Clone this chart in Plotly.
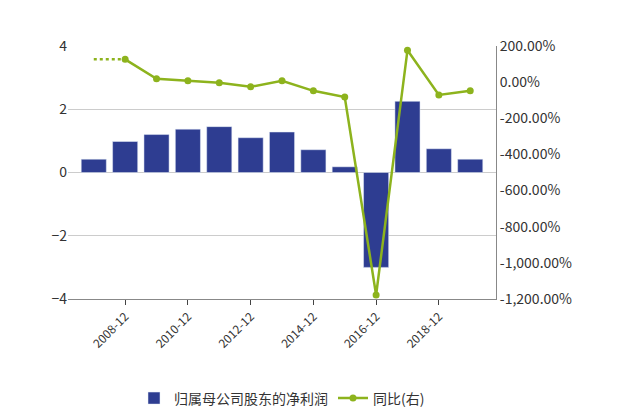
import plotly.graph_objects as go

cats = ["2007-12","2008-12","2009-12","2010-12","2011-12","2012-12","2013-12","2014-12","2015-12","2016-12","2017-12","2018-12","2019-12"]
profit = [0.42,0.98,1.2,1.37,1.45,1.1,1.28,0.72,0.18,-3.0,2.25,0.75,0.42]
yoy = [None,126,19,8,-3,-26,8,-48,-82,-1178,177,-71,-48]
dotted_cats = ["2007-12","2008-12"]
dotted_vals = [126,126]
tick_cats = ["2008-12","2010-12","2012-12","2014-12","2016-12","2018-12"]

fig = go.Figure()
fig.add_bar(x=cats, y=profit, name="归属母公司股东的净利润", marker_color="#2E3D91", width=0.8)
fig.add_scatter(x=cats, y=yoy, name="同比(右)", yaxis="y2", mode="lines+markers",
                line=dict(color="#8DB31D", width=2.5), marker=dict(size=7, color="#8DB31D"))
fig.add_scatter(x=dotted_cats, y=dotted_vals, yaxis="y2", mode="lines", showlegend=False,
                line=dict(color="#8DB31D", width=2.5, dash="dot"))
fig.update_layout(
    width=640, height=419, plot_bgcolor="white", paper_bgcolor="white",
    margin=dict(l=60, r=152, t=38, b=128),
    font=dict(family="Noto Sans CJK SC, DejaVu Sans", size=14, color="#333"),
    bargap=0.2,
    xaxis=dict(type="category", tickvals=tick_cats, tickangle=-45, showgrid=False,
               showline=True, linecolor="#888", ticks="outside", tickfont=dict(size=12)),
    yaxis=dict(range=[-4,4], dtick=2, gridcolor="#ccc", zeroline=False, showline=False),
    yaxis2=dict(overlaying="y", side="right", range=[-1200,200],
                tickvals=list(range(-1200,201,200)),
                ticktext=[f"{v:,.2f}%" for v in range(-1200,201,200)],
                showgrid=False, showline=True, linecolor="#888", zeroline=False),
    legend=dict(orientation="h", x=0.5, xanchor="center", y=-0.33, yanchor="top"),
)
fig.write_html("out.html")
